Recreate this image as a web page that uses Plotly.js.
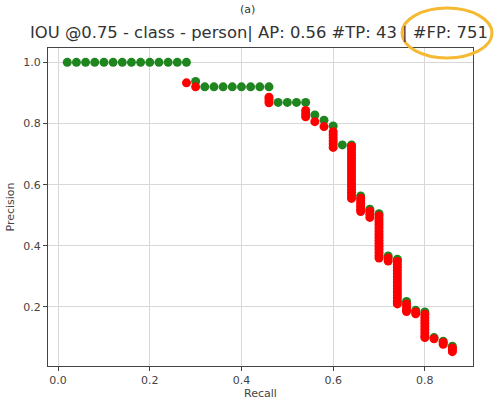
<!DOCTYPE html>
<html>
<head>
<meta charset="utf-8">
<script src="https://cdn.plot.ly/plotly-3.0.1.min.js"></script>
<style>
html,body{margin:0;padding:0;background:#fff;}
#chart{width:495px;height:400px;}
</style>
</head>
<body>
<div id="chart"></div>
<script>
// True positives (green): recall, precision
const tpRecall = [0.02,0.04,0.06,0.08,0.10,0.12,0.14,0.16,0.18,0.20,0.22,0.24,0.26,0.28,
  0.30,0.32,0.34,0.36,0.38,0.40,0.42,0.44,0.46,0.48,0.50,0.52,0.54,0.56,0.58,0.60,
  0.62,0.64,0.66,0.68,0.70,0.72,0.74,0.76,0.78,0.80,0.82,0.84,0.86];
const tpPrecision = [1,1,1,1,1,1,1,1,1,1,1,1,1,1,
  0.9375,0.92,0.92,0.92,0.92,0.92,0.92,0.92,0.92,0.869,0.869,0.869,0.869,0.828,0.811,0.792,
  0.73,0.73,0.563,0.52,0.505,0.367,0.356,0.218,0.189,0.184,0.100,0.088,0.072];

// False positives (red): recall, precision
const fpRecall = [0.28,0.30,
  0.46,0.46,0.46,
  0.54,0.54,0.54,
  0.56,0.58,
  0.60,0.60,0.60,0.60,0.60,0.60,
  0.64,0.64,0.64,0.64,0.64,0.64,0.64,0.64,0.64,0.64,0.64,0.64,0.64,0.64,0.64,0.64,0.64,0.64,
  0.66,0.66,0.66,0.66,0.66,0.66,
  0.68,0.68,0.68,
  0.70,0.70,0.70,0.70,0.70,0.70,0.70,0.70,0.70,0.70,0.70,0.70,0.70,0.70,0.70,
  0.72,0.72,
  0.74,0.74,0.74,0.74,0.74,0.74,0.74,0.74,0.74,0.74,0.74,0.74,0.74,0.74,0.74,
  0.76,0.76,0.76,0.76,
  0.78,0.78,
  0.80,0.80,0.80,0.80,0.80,0.80,0.80,0.80,0.80,
  0.82,
  0.84,0.84,
  0.86,0.86,0.86];
const fpPrecision = [0.933,0.92,
  0.886,0.877,0.868,
  0.843,0.832,0.822,
  0.806,0.79,
  0.773,0.763,0.753,0.743,0.733,0.722,
  0.725,0.715,0.705,0.695,0.685,0.675,0.665,0.655,0.645,0.635,0.625,0.615,0.605,0.595,0.585,0.575,0.565,0.555,
  0.556,0.547,0.538,0.529,0.520,0.512,
  0.513,0.503,0.493,
  0.498,0.488,0.478,0.468,0.458,0.448,0.438,0.428,0.418,0.408,0.398,0.388,0.378,0.368,0.360,
  0.360,0.350,
  0.349,0.339,0.329,0.319,0.309,0.299,0.289,0.279,0.269,0.259,0.249,0.239,0.229,0.219,0.210,
  0.210,0.200,0.190,0.185,
  0.184,0.178,
  0.176,0.166,0.156,0.146,0.136,0.126,0.116,0.106,0.100,
  0.096,
  0.084,0.078,
  0.066,0.060,0.054];

const xTicks = [0.0,0.2,0.4,0.6,0.8];
const yTicks = [0.2,0.4,0.6,0.8,1.0];
const titleText = "IOU @0.75 - class - person| AP: 0.56 #TP: 43 | #FP: 751";

const font = "DejaVu Sans, Verdana, sans-serif";

const traces = [
  {x: tpRecall, y: tpPrecision, type: 'scatter', mode: 'markers',
   marker: {color: '#1f861f', size: 9, line: {width: 0}}, hoverinfo: 'skip', showlegend: false},
  {x: fpRecall, y: fpPrecision, type: 'scatter', mode: 'markers',
   marker: {color: '#ff0000', size: 9, line: {width: 0}}, hoverinfo: 'skip', showlegend: false}
];

const layout = {
  width: 495, height: 400,
  margin: {l: 48, r: 22, t: 48, b: 34, pad: 0},
  paper_bgcolor: '#fff', plot_bgcolor: '#fff',
  font: {family: font, color: '#333', size: 11},
  title: {text: titleText, font: {family: font, size: 16.4, color: '#333'},
          x: 0.523, xanchor: 'center', y: 0.92, yanchor: 'middle'},
  xaxis: {range: [-0.022, 0.905], tickvals: xTicks, ticktext: xTicks.map(v => v.toFixed(1)),
          showgrid: true, gridcolor: '#d8d8d8', gridwidth: 1, zeroline: false,
          showline: true, mirror: true, linecolor: '#444', linewidth: 1,
          ticks: 'outside', ticklen: 4, tickcolor: '#444',
          tickfont: {size: 11, color: '#444'},
          title: {text: 'Recall', font: {size: 11, color: '#444'}, standoff: 4}},
  yaxis: {range: [0.007, 1.047], tickvals: yTicks, ticktext: yTicks.map(v => v.toFixed(1)),
          showgrid: true, gridcolor: '#d8d8d8', gridwidth: 1, zeroline: false,
          showline: true, mirror: true, linecolor: '#444', linewidth: 1,
          ticks: 'outside', ticklen: 4, tickcolor: '#444',
          tickfont: {size: 11, color: '#444'},
          title: {text: 'Precision', font: {size: 11, color: '#444'}, standoff: 6}},
  shapes: [
    {type: 'circle', xref: 'paper', yref: 'paper',
     x0: (402-48)/425, x1: (492-48)/425, y0: (366-58)/318, y1: (366-8)/318,
     line: {color: '#f5b932', width: 3}}
  ],
  annotations: [
    {text: '(a)', xref: 'paper', yref: 'paper', x: (247-48)/425, y: (366-1)/318,
     xanchor: 'center', yanchor: 'top', showarrow: false,
     font: {size: 11, color: '#333', family: font}}
  ]
};

Plotly.newPlot('chart', traces, layout, {displayModeBar: false, staticPlot: true});
</script>
</body>
</html>
